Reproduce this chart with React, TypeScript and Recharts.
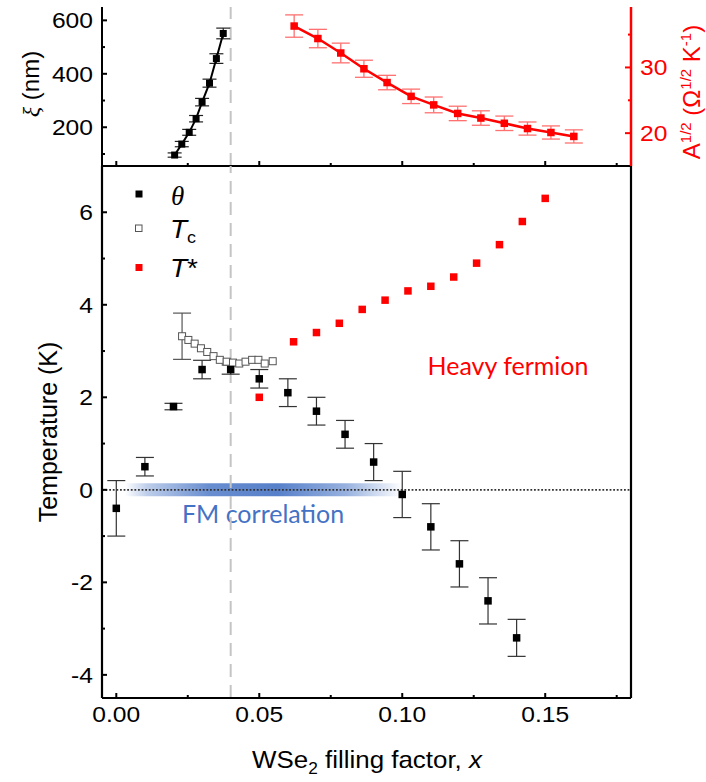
import React from "react";
import {
  ComposedChart,
  Scatter,
  XAxis,
  YAxis,
  ErrorBar,
  ReferenceLine,
  ReferenceArea,
} from "recharts";

const FONT = "'Liberation Sans', Arial, sans-serif";
const SERIF = "'Liberation Serif', 'Times New Roman', serif";
const NOTE_FONT = "Lato, 'Open Sans', sans-serif";
const RED = "#ff0000";
const BLUE = "#4472c4";
const SX = 1.12; // text in the figure is a bit wide

// x axis (WSe2 filling factor)
const X_DOMAIN = [-0.005, 0.18];
const X_MAJOR = [0, 0.05, 0.1, 0.15];
const X_MINOR = [0.025, 0.075, 0.125, 0.175];
const X_TICKS = [...X_MAJOR, ...X_MINOR].sort((a, b) => a - b);
const CROSSOVER_X = 0.04;

// top panel, left axis: xi (nm)
const XI_DOMAIN = [55, 650];
const XI_TICKS = [100, 200, 300, 400, 500, 600];
const XI_MAJOR = [200, 400, 600];
const XI_X = [0.0204, 0.0229, 0.0255, 0.0279, 0.03, 0.0326, 0.035, 0.0374];
const XI_Y = [96, 137, 181, 232, 294, 365, 457, 551];
const XI_ERR = [8, 10, 11, 12, 14, 15, 18, 20];

// top panel, right axis: A^1/2
const A_DOMAIN = [15, 39.2];
const A_TICKS = [20, 25, 30, 35];
const A_MAJOR = [20, 30];
const A_X = [0.0622, 0.0705, 0.0785, 0.0866, 0.0947, 0.1031, 0.111, 0.1194, 0.1275, 0.1357, 0.1438, 0.152, 0.16];
const A_Y = [36.3, 34.4, 32.2, 29.8, 27.7, 25.6, 24.3, 23.0, 22.3, 21.5, 20.7, 20.1, 19.5];
const A_ERR = [1.7, 1.4, 1.5, 1.3, 1.1, 1.1, 1.2, 1.1, 1.1, 1.1, 1.0, 1.0, 1.0];

// bottom panel: temperature (K)
const T_DOMAIN = [-4.5, 7];
const T_TICKS = [-4, -3, -2, -1, 0, 1, 2, 3, 4, 5, 6];
const T_MAJOR = [-4, -2, 0, 2, 4, 6];

const THETA_X = [0, 0.01, 0.02, 0.03, 0.04, 0.05, 0.06, 0.07, 0.08, 0.09, 0.1, 0.11, 0.12, 0.13, 0.14];
const THETA_Y = [-0.4, 0.5, 1.8, 2.6, 2.6, 2.4, 2.1, 1.7, 1.2, 0.6, -0.1, -0.8, -1.6, -2.4, -3.2];
const THETA_ERR = [0.6, 0.2, 0.07, 0.2, 0.1, 0.2, 0.3, 0.3, 0.3, 0.4, 0.5, 0.5, 0.5, 0.5, 0.4];

const TC_X = [0.023, 0.0252, 0.0274, 0.0296, 0.0318, 0.034, 0.0362, 0.0386, 0.0408, 0.043, 0.0452, 0.0475, 0.0497, 0.0519, 0.0547];
const TC_Y = [3.32, 3.24, 3.16, 3.06, 2.98, 2.89, 2.81, 2.77, 2.75, 2.73, 2.77, 2.81, 2.81, 2.73, 2.78];
const TC_ERR = [0.5, null, null, null, null, null, null, null, null, null, null, null, null, null, null];

const TSTAR_X = [0.05, 0.062, 0.07, 0.078, 0.086, 0.094, 0.102, 0.11, 0.118, 0.126, 0.134, 0.142, 0.15];
const TSTAR_Y = [2.0, 3.2, 3.4, 3.6, 3.9, 4.1, 4.3, 4.4, 4.6, 4.9, 5.3, 5.8, 6.3];

// FM correlation band along T = 0
const BAND_X = [0.003, 0.1];
const BAND_Y = [-0.14, 0.14];

const xiData = XI_X.map((x, i) => ({ x, y: XI_Y[i], e: XI_ERR[i] }));
const aData = A_X.map((x, i) => ({ x, y: A_Y[i], e: A_ERR[i] }));
const thetaData = THETA_X.map((x, i) => ({ x, y: THETA_Y[i], e: THETA_ERR[i] }));
const tcData = TC_X.map((x, i) => ({ x, y: TC_Y[i], e: TC_ERR[i] }));
const tstarData = TSTAR_X.map((x, i) => ({ x, y: TSTAR_Y[i] }));

const isIn = (arr: number[], v: number) => arr.some((m) => Math.abs(m - v) < 1e-9);

const square =
  (size: number, fill: string, stroke = "none", sw = 0) =>
  (p: any) =>
    (
      <rect
        x={p.cx - size / 2}
        y={p.cy - size / 2}
        width={size}
        height={size}
        fill={fill}
        stroke={stroke}
        strokeWidth={sw}
      />
    );

const Txt = ({ x, y, sx = SX, children, ...rest }: any) => (
  <text transform={`translate(${x},${y}) scale(${sx},1)`} {...rest}>
    {children}
  </text>
);

// inward ticks on the bottom x axis
const xTick = (withLabel: boolean) => (p: any) => {
  const v = p.payload.value;
  const major = isIn(X_MAJOR, v);
  return (
    <g>
      <line x1={p.x} x2={p.x} y1={p.y} y2={p.y - (major ? 5 : 3)} stroke="#000" strokeWidth={2} />
      {withLabel && major && (
        <Txt x={p.x} y={p.y + 24} textAnchor="middle" fontSize={22} fontFamily={FONT} fill="#000">
          {v.toFixed(2)}
        </Txt>
      )}
    </g>
  );
};

const leftTick = (majors: number[], color = "#000") => (p: any) => {
  const v = p.payload.value;
  const major = isIn(majors, v);
  return (
    <g>
      <line x1={p.x} x2={p.x + (major ? 5 : 3)} y1={p.y} y2={p.y} stroke={color} strokeWidth={2} />
      {major && (
        <Txt x={p.x - 9} y={p.y + 8} textAnchor="end" fontSize={22} fontFamily={FONT} fill={color}>
          {String(v)}
        </Txt>
      )}
    </g>
  );
};

const rightTick = (majors: number[], color: string) => (p: any) => {
  const v = p.payload.value;
  const major = isIn(majors, v);
  return (
    <g>
      <line x1={p.x} x2={p.x - (major ? 6 : 3)} y1={p.y} y2={p.y} stroke={color} strokeWidth={2} />
      {major && (
        <Txt x={p.x + 9} y={p.y + 8} textAnchor="start" fontSize={22} fontFamily={FONT} fill={color}>
          {String(v)}
        </Txt>
      )}
    </g>
  );
};

const TopPanel = () => (
  <ComposedChart width={706} height={170} margin={{ top: 7, right: 0, bottom: 0, left: 0 }}>
    <XAxis
      type="number"
      dataKey="x"
      domain={X_DOMAIN}
      ticks={X_TICKS}
      allowDataOverflow
      height={4}
      tickSize={0}
      tickMargin={0}
      tick={xTick(false)}
      axisLine={{ stroke: "#000", strokeWidth: 2 }}
      tickLine={false}
    />
    <XAxis xAxisId="top" orientation="top" type="number" domain={X_DOMAIN} allowDataOverflow height={0} tick={false} axisLine={{ stroke: "#000", strokeWidth: 2 }} tickLine={false} />
    <YAxis
      yAxisId="xi"
      type="number"
      dataKey="y"
      domain={XI_DOMAIN}
      ticks={XI_TICKS}
      allowDataOverflow
      width={102}
      tickSize={0}
      tickMargin={0}
      tick={leftTick(XI_MAJOR)}
      axisLine={{ stroke: "#000", strokeWidth: 2 }}
      tickLine={false}
    />
    <YAxis
      yAxisId="a"
      orientation="right"
      type="number"
      dataKey="y"
      domain={A_DOMAIN}
      ticks={A_TICKS}
      allowDataOverflow
      width={75}
      tickSize={0}
      tickMargin={0}
      tick={rightTick(A_MAJOR, RED)}
      axisLine={{ stroke: RED, strokeWidth: 2.5 }}
      tickLine={false}
    />
    <ReferenceLine yAxisId="xi" x={CROSSOVER_X} stroke="#c4c4c4" strokeWidth={2} strokeDasharray="13 8" />
    <Scatter
      yAxisId="xi"
      data={xiData}
      isAnimationActive={false}
      line={{ stroke: "#000", strokeWidth: 2 }}
      shape={square(7, "#000")}
    >
      <ErrorBar dataKey="e" direction="y" width={7} stroke="#222" strokeWidth={1.2} />
    </Scatter>
    <Scatter
      yAxisId="a"
      data={aData}
      isAnimationActive={false}
      line={{ stroke: RED, strokeWidth: 2.5 }}
      shape={square(7.5, RED)}
    >
      <ErrorBar dataKey="e" direction="y" width={9} stroke="#ff7070" strokeWidth={1.3} />
    </Scatter>
    <text transform="translate(39,84) rotate(-90)" textAnchor="middle" fontSize={24} fontFamily={FONT} fill="#000">
      <tspan fontFamily={SERIF} fontStyle="italic">ξ</tspan> (nm)
    </text>
    <text transform="translate(700,92) rotate(-90)" textAnchor="middle" fontSize={24} fontFamily={FONT} fill={RED}>
      A<tspan fontSize={15} dy={-9}>1/2</tspan>
      <tspan dy={9}> (Ω</tspan>
      <tspan fontSize={15} dy={-9}>1/2</tspan>
      <tspan dy={9}> K</tspan>
      <tspan fontSize={15} dy={-9}>-1</tspan>
      <tspan dy={9}>)</tspan>
    </text>
  </ComposedChart>
);

const BottomPanel = () => (
  <ComposedChart width={706} height={782} margin={{ top: 166, right: 0, bottom: 0, left: 0 }}>
    <defs>
      <linearGradient id="fmBand" x1="0" x2="1" y1="0" y2="0">
        <stop offset="0" stopColor={BLUE} stopOpacity={0} />
        <stop offset="0.08" stopColor={BLUE} stopOpacity={0.35} />
        <stop offset="0.3" stopColor={BLUE} stopOpacity={0.8} />
        <stop offset="0.55" stopColor={BLUE} stopOpacity={0.9} />
        <stop offset="0.8" stopColor={BLUE} stopOpacity={0.55} />
        <stop offset="1" stopColor={BLUE} stopOpacity={0} />
      </linearGradient>
    </defs>
    <XAxis
      type="number"
      dataKey="x"
      domain={X_DOMAIN}
      ticks={X_TICKS}
      allowDataOverflow
      height={84}
      tickSize={0}
      tickMargin={0}
      tick={xTick(true)}
      axisLine={{ stroke: "#000", strokeWidth: 2.2 }}
      tickLine={false}
    />
    <XAxis xAxisId="top" orientation="top" type="number" domain={X_DOMAIN} allowDataOverflow height={0} tick={false} axisLine={{ stroke: "#000", strokeWidth: 2.2 }} tickLine={false} />
    <YAxis
      type="number"
      dataKey="y"
      domain={T_DOMAIN}
      ticks={T_TICKS}
      allowDataOverflow
      width={102}
      tickSize={0}
      tickMargin={0}
      tick={leftTick(T_MAJOR)}
      axisLine={{ stroke: "#000", strokeWidth: 2.2 }}
      tickLine={false}
    />
    <YAxis yAxisId="r" orientation="right" type="number" domain={T_DOMAIN} allowDataOverflow width={75} tick={false} axisLine={{ stroke: "#000", strokeWidth: 2.2 }} tickLine={false} />
    <ReferenceArea x1={BAND_X[0]} x2={BAND_X[1]} y1={BAND_Y[0]} y2={BAND_Y[1]} fill="url(#fmBand)" fillOpacity={1} stroke="none" />
    <ReferenceLine x={CROSSOVER_X} stroke="#c4c4c4" strokeWidth={2} strokeDasharray="13 8" />
    <ReferenceLine y={0} stroke="#333" strokeWidth={1.8} strokeDasharray="1.8 1.8" />
    <Scatter data={tcData} isAnimationActive={false} shape={square(7, "#fff", "#555", 1)}>
      <ErrorBar dataKey="e" direction="y" width={9} stroke="#555" strokeWidth={1.2} />
    </Scatter>
    <Scatter data={thetaData} isAnimationActive={false} shape={square(7.5, "#000")}>
      <ErrorBar dataKey="e" direction="y" width={9} stroke="#333" strokeWidth={1.2} />
    </Scatter>
    <Scatter data={tstarData} isAnimationActive={false} shape={square(7.5, RED)} />

    {/* legend */}
    <rect x={135.5} y={190.5} width={7} height={7} fill="#000" />
    <Txt x={171} y={205} sx={1} fontSize={27} fontFamily={SERIF} fontStyle="italic" fill="#000">
      θ
    </Txt>
    <rect x={135.5} y={225} width={6.5} height={6.5} fill="#fff" stroke="#555" strokeWidth={1} />
    <Txt x={170} y={238} fontSize={25} fontFamily={FONT} fontStyle="italic" fill="#000">
      T<tspan fontStyle="normal" fontSize={16} dy={5}>c</tspan>
    </Txt>
    <rect x={135.5} y={264} width={7} height={7} fill={RED} />
    <Txt x={170} y={277} fontSize={25} fontFamily={FONT} fontStyle="italic" fill="#000">
      T<tspan fontStyle="normal">*</tspan>
    </Txt>

    {/* annotations */}
    <text x={508} y={375} textAnchor="middle" fontSize={25} fontFamily={NOTE_FONT} fill={RED}>
      Heavy fermion
    </text>
    <text x={263} y={523} textAnchor="middle" fontSize={25} fontFamily={NOTE_FONT} fill={BLUE}>
      FM correlation
    </text>

    {/* axis titles */}
    <text transform="translate(57,432) rotate(-90)" textAnchor="middle" fontSize={25} fontFamily={FONT} fill="#000">
      Temperature (K)
    </text>
    <Txt x={367} y={768} sx={1.08} textAnchor="middle" fontSize={24} fontFamily={FONT} fill="#000">
      WSe<tspan fontSize={16} dy={6}>2</tspan>
      <tspan dy={-6}> filling factor, </tspan>
      <tspan fontStyle="italic">x</tspan>
    </Txt>
  </ComposedChart>
);

export default function App() {
  return (
    <div style={{ position: "absolute", left: 0, top: 0, width: 706, height: 782, background: "#fff" }}>
      <div style={{ position: "absolute", left: 0, top: 0 }}>
        <TopPanel />
      </div>
      <div style={{ position: "absolute", left: 0, top: 0 }}>
        <BottomPanel />
      </div>
    </div>
  );
}
